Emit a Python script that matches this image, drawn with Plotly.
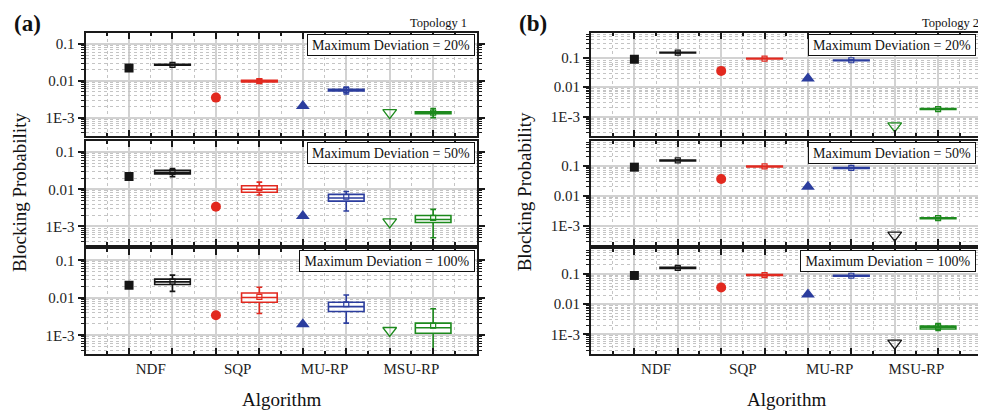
import plotly.graph_objects as go

# The page body adds an 8px margin, so the figure is drawn 8px right/down.
OFF = 8
W, H = 986 - OFF, 415 - OFF

algorithms = ["NDF", "SQP", "MU-RP", "MSU-RP"]
deviation_labels = ["Maximum Deviation = 20%", "Maximum Deviation = 50%", "Maximum Deviation = 100%"]
panel_labels = ["(a)", "(b)"]
topology_labels = ["Topology 1", "Topology 2"]

colors = ["#151515", "#e2291f", "#2b3d9e", "#1d8a1d"]
symbols = ["square", "circle", "triangle-up", "triangle-down-open"]
marker_sizes = [9, 10, 12, 12]

# ---------------- Panel (a): Topology 1 (rows: 20%, 50%, 100%) ----------------
a_single = [
    [0.0224, 0.0035, 0.00206, 0.00136],
    [0.0222, 0.0034, 0.00192, 0.00132],
    [0.0215, 0.0034, 0.00195, 0.00134],
]
a_low = [
    [0.0262, 0.0087, 0.0044, 0.00100],
    [0.0218, 0.0070, 0.0026, 0.000495],
    [0.0148, 0.0038, 0.0021, 0.00030],
]
a_q1 = [
    [0.0266, 0.0093, 0.0053, 0.00127],
    [0.0258, 0.0083, 0.0048, 0.00127],
    [0.0225, 0.0076, 0.0043, 0.00113],
]
a_median = [
    [0.0273, 0.0098, 0.0056, 0.00135],
    [0.0285, 0.0100, 0.0058, 0.00153],
    [0.0265, 0.0102, 0.0058, 0.00158],
]
a_q3 = [
    [0.0280, 0.0103, 0.0059, 0.00144],
    [0.0324, 0.0124, 0.0073, 0.00197],
    [0.0313, 0.0134, 0.0076, 0.00210],
]
a_high = [
    [0.0285, 0.0110, 0.0068, 0.00175],
    [0.0360, 0.0156, 0.0087, 0.00288],
    [0.0400, 0.0190, 0.0118, 0.00510],
]
a_mean = [
    [0.0273, 0.0098, 0.0056, 0.00136],
    [0.0290, 0.0108, 0.0063, 0.00170],
    [0.0270, 0.0105, 0.0067, 0.00180],
]

# ---------------- Panel (b): Topology 2 ----------------
b_single = [
    [0.0877, 0.0355, 0.0195, 0.00049],
    [0.0900, 0.0360, 0.0200, 0.00048],
    [0.0897, 0.0360, 0.0210, 0.00051],
]
b_low = [
    [0.140, 0.089, 0.078, 0.00172],
    [0.144, 0.091, 0.081, 0.00168],
    [0.150, 0.087, 0.084, 0.00136],
]
b_q1 = [
    [0.142, 0.090, 0.079, 0.00175],
    [0.146, 0.092, 0.082, 0.00171],
    [0.152, 0.089, 0.085, 0.00150],
]
b_median = [
    [0.147, 0.0925, 0.081, 0.00182],
    [0.151, 0.095, 0.085, 0.00177],
    [0.160, 0.092, 0.0877, 0.00174],
]
b_q3 = [
    [0.152, 0.095, 0.083, 0.00189],
    [0.156, 0.098, 0.088, 0.00183],
    [0.168, 0.096, 0.090, 0.00190],
]
b_high = [
    [0.155, 0.096, 0.084, 0.00192],
    [0.158, 0.099, 0.089, 0.00186],
    [0.170, 0.098, 0.091, 0.00229],
]
b_mean = [
    [0.147, 0.0925, 0.081, 0.00182],
    [0.151, 0.095, 0.085, 0.00177],
    [0.160, 0.092, 0.0877, 0.00180],
]
# MSU-RP single marker colour per row in panel (b)
b_msu_colors = ["#1d8a1d", "#151515", "#151515"]

y_tick_vals = [0.001, 0.01, 0.1]
y_tick_text = ["1E-3", "0.01", "0.1"]

# ---------------- layout geometry (page pixels) ----------------
x_px = [(86, 479), (594, 983)]
row_px = [(33, 136), (141, 245), (249, 354)]
x_ranges = [[0.25, 4.75], [0.25, 4.71]]
y_ranges = [[-3.5, -0.70], [-3.65, -0.17]]


def fx(px):
    return (px - OFF) / W


def fy(py):
    return 1 - (py - OFF) / H


FONT = "Liberation Serif, Times New Roman, serif"
GRID = "#d2d2d2"
GRID_MINOR = "#c4c4c4"
AXIS = "#1a1a1a"

panels = [
    dict(single=a_single, low=a_low, q1=a_q1, med=a_median, q3=a_q3, high=a_high, mean=a_mean),
    dict(single=b_single, low=b_low, q1=b_q1, med=b_median, q3=b_q3, high=b_high, mean=b_mean),
]

fig = go.Figure()

minor_y = [k * 10 ** e for e in range(-5, 1) for k in range(2, 10)]
major_x = [0.5 + 0.5 * i for i in range(9)]
major_x_text = ["", "NDF", "", "SQP", "", "MU-RP", "", "MSU-RP", ""]
minor_x = [0.75 + 0.5 * i for i in range(8)]

layout = {}
annotations = []

for p, pan in enumerate(panels):
    for r in range(3):
        k = p * 3 + r + 1
        xa = "x" if k == 1 else f"x{k}"
        ya = "y" if k == 1 else f"y{k}"
        for i, alg in enumerate(algorithms):
            c = colors[i]
            mcol = c
            if p == 1 and i == 3:
                mcol = b_msu_colors[r]
            fig.add_trace(go.Scatter(
                x=[i + 1 - 0.25], y=[pan["single"][r][i]], mode="markers",
                marker=dict(symbol=symbols[i], size=marker_sizes[i], color=mcol,
                            line=dict(color=mcol, width=1.3 if i == 3 else 0)),
                xaxis=xa, yaxis=ya, showlegend=False, hoverinfo="skip"))
            fig.add_trace(go.Box(
                x=[i + 1 + 0.25],
                q1=[pan["q1"][r][i]], median=[pan["med"][r][i]], q3=[pan["q3"][r][i]],
                lowerfence=[pan["low"][r][i]], upperfence=[pan["high"][r][i]],
                width=0.41, whiskerwidth=0.16, boxpoints=False,
                line=dict(color=c, width=1.6), fillcolor="rgba(255,255,255,0.85)",
                xaxis=xa, yaxis=ya, showlegend=False, hoverinfo="skip"))
            fig.add_trace(go.Scatter(
                x=[i + 1 + 0.25], y=[pan["mean"][r][i]], mode="markers",
                marker=dict(symbol="square-open", size=5, color=c, line=dict(width=1.2)),
                xaxis=xa, yaxis=ya, showlegend=False, hoverinfo="skip"))

        x0, x1 = x_px[p]
        t, b = row_px[r]
        layout["xaxis" if k == 1 else f"xaxis{k}"] = dict(
            domain=[fx(x0), fx(x1)], range=x_ranges[p], anchor=ya,
            tickmode="array", tickvals=major_x, ticktext=major_x_text,
            showticklabels=(r == 2),
            tickfont=dict(family=FONT, size=15, color="#222"),
            ticks="inside", ticklen=3, tickwidth=1.5, tickcolor=AXIS,
            showgrid=True, gridcolor=GRID_MINOR, griddash="dot", gridwidth=1,
            minor=dict(tickmode="array", tickvals=minor_x, ticks="inside", ticklen=6,
                       tickwidth=1.5, tickcolor=AXIS, showgrid=True, gridcolor=GRID,
                       gridwidth=1.5, griddash="solid"),
            showline=True, linecolor=AXIS, linewidth=2, mirror="ticks",
            zeroline=False, ticklabelstandoff=0,
        )
        layout["yaxis" if k == 1 else f"yaxis{k}"] = dict(
            domain=[fy(b), fy(t)], type="log", range=y_ranges[p], anchor=xa,
            tickmode="array", tickvals=y_tick_vals, ticktext=y_tick_text,
            tickfont=dict(family=FONT, size=15, color="#222"),
            ticks="outside", ticklen=6, tickwidth=1.5, tickcolor=AXIS,
            showgrid=True, gridcolor=GRID, gridwidth=1.5,
            minor=dict(tickmode="array", tickvals=minor_y, ticks="outside", ticklen=3,
                       tickwidth=1, tickcolor=AXIS, showgrid=True, gridcolor=GRID_MINOR,
                       griddash="dot", gridwidth=1),
            showline=True, linecolor=AXIS, linewidth=2, mirror="ticks",
            zeroline=False,
        )
        bw = 176 if r == 2 else 168
        annotations.append(dict(
            text=deviation_labels[r], xref=f"{xa} domain", yref=f"{ya} domain",
            x=1, y=1, xanchor="right", yanchor="top", xshift=-2, yshift=-1,
            showarrow=False, font=dict(family=FONT, size=14, color="#111"),
            bgcolor="white", bordercolor="#111", borderwidth=1, borderpad=2,
            width=bw - 6, height=16, align="center"))

    annotations.append(dict(text=f"<b>{panel_labels[p]}</b>", xref="paper", yref="paper",
                            x=fx(12 if p == 0 else 520), y=fy(23), xanchor="left",
                            yanchor="middle", showarrow=False,
                            font=dict(family=FONT, size=23, color="#111")))
    annotations.append(dict(text=topology_labels[p], xref="paper", yref="paper",
                            x=fx(471 if p == 0 else 986), y=fy(23), xanchor="right",
                            yanchor="middle", showarrow=False,
                            font=dict(family=FONT, size=12.5, color="#111")))
    annotations.append(dict(text="Blocking Probability", xref="paper", yref="paper",
                            x=fx(20 if p == 0 else 528), y=fy(192), xanchor="center",
                            yanchor="middle", textangle=-90, showarrow=False,
                            font=dict(family=FONT, size=19, color="#111")))
    annotations.append(dict(text="Algorithm", xref="paper", yref="paper",
                            x=fx(283 if p == 0 else 791), y=fy(399), xanchor="center",
                            yanchor="middle", showarrow=False,
                            font=dict(family=FONT, size=19, color="#111")))

fig.update_layout(
    width=W, height=H, margin=dict(l=0, r=0, t=0, b=0, pad=0),
    paper_bgcolor="white", plot_bgcolor="white", boxmode="overlay",
    annotations=annotations, **layout)

fig.write_html("out.html")
